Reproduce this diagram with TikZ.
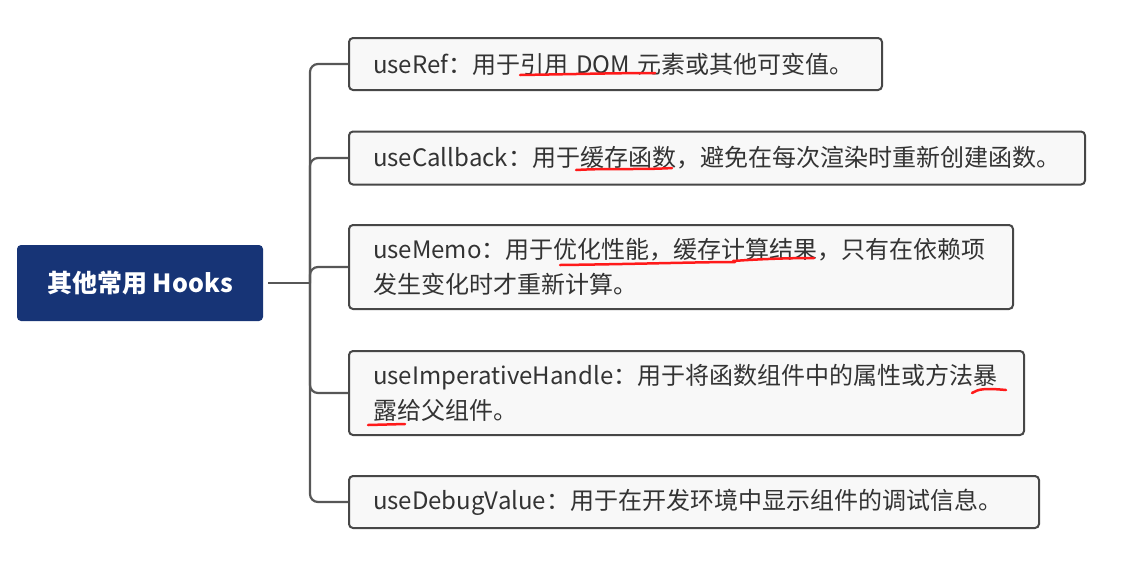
\documentclass[tikz,border=0pt]{standalone}
\usepackage{fontspec}
\setmainfont{Noto Sans CJK SC}
\usepackage{tikz}
\usetikzlibrary{positioning}

\definecolor{rootblue}{HTML}{173476}
\definecolor{boxgray}{HTML}{F8F8F8}
\definecolor{edgegray}{HTML}{474747}
\definecolor{wiregray}{HTML}{575757}
\definecolor{textgray}{HTML}{333333}
\definecolor{penred}{HTML}{FF1A1A}

\begin{document}
\begin{tikzpicture}
    [x=1pt,y=-1pt,
     rootbox/.style={fill=rootblue,rounded corners=4pt,text=white,
       font=\fontsize{25}{30}\selectfont\bfseries,
       minimum width=246pt,minimum height=76pt},
     hookbox/.style={draw=edgegray,line width=2pt,fill=boxgray,rounded corners=4pt,
       anchor=west,align=left,inner xsep=24pt,inner ysep=0pt,text=textgray,
       font=\fontsize{24}{35}\selectfont},
     wire/.style={draw=wiregray,line width=2.2pt,rounded corners=8pt},
     pen/.style={draw=penred,line width=2.5pt,line cap=round}]
    \useasboundingbox (0,0) rectangle (1126,566);
    \node[rootbox] (root) at (140,283) {其他常用 Hooks};
    \node[hookbox,text width=485pt,minimum height=52pt] (ref) at (348,64)
      {useRef：用于引用 DOM 元素或其他可变值。};
    \node[hookbox,text width=688pt,minimum height=53pt] (callback) at (348,158)
      {useCallback：用于缓存函数，避免在每次渲染时重新创建函数。};
    \node[hookbox,text width=616pt,minimum height=84pt] (memo) at (348,267)
      {useMemo：用于优化性能，缓存计算结果，只有在依赖项\\发生变化时才重新计算。};
    \node[hookbox,text width=627pt,minimum height=84pt] (handle) at (348,393)
      {useImperativeHandle：用于将函数组件中的属性或方法暴\\露给父组件。};
    \node[hookbox,text width=642pt,minimum height=52pt] (debug) at (348,502)
      {useDebugValue：用于在开发环境中显示组件的调试信息。};
    \coordinate (fork) at (310,283);
    \draw [wire,shorten <=5pt] (root.east) -- (fork);
    \foreach \to in {ref,callback,memo,handle,debug}
      \draw [wire] (fork) |- (\to.west);
    % red marks
    \draw [pen] (520,75) .. controls (580,74) and (620,73) .. (655,73);
    \draw [pen] (576,170) .. controls (610,168) and (640,170) .. (672,168);
    \draw [pen] (560,265) .. controls (640,264) and (700,262) .. (735,262);
    \draw [pen] (733,261) .. controls (760,259) and (790,258) .. (814,258);
    \draw [pen] (972,393) .. controls (978,389) and (985,388) .. (1006,390);
    \draw [pen] (368,425) -- (405,424);
\end{tikzpicture}
\end{document}
